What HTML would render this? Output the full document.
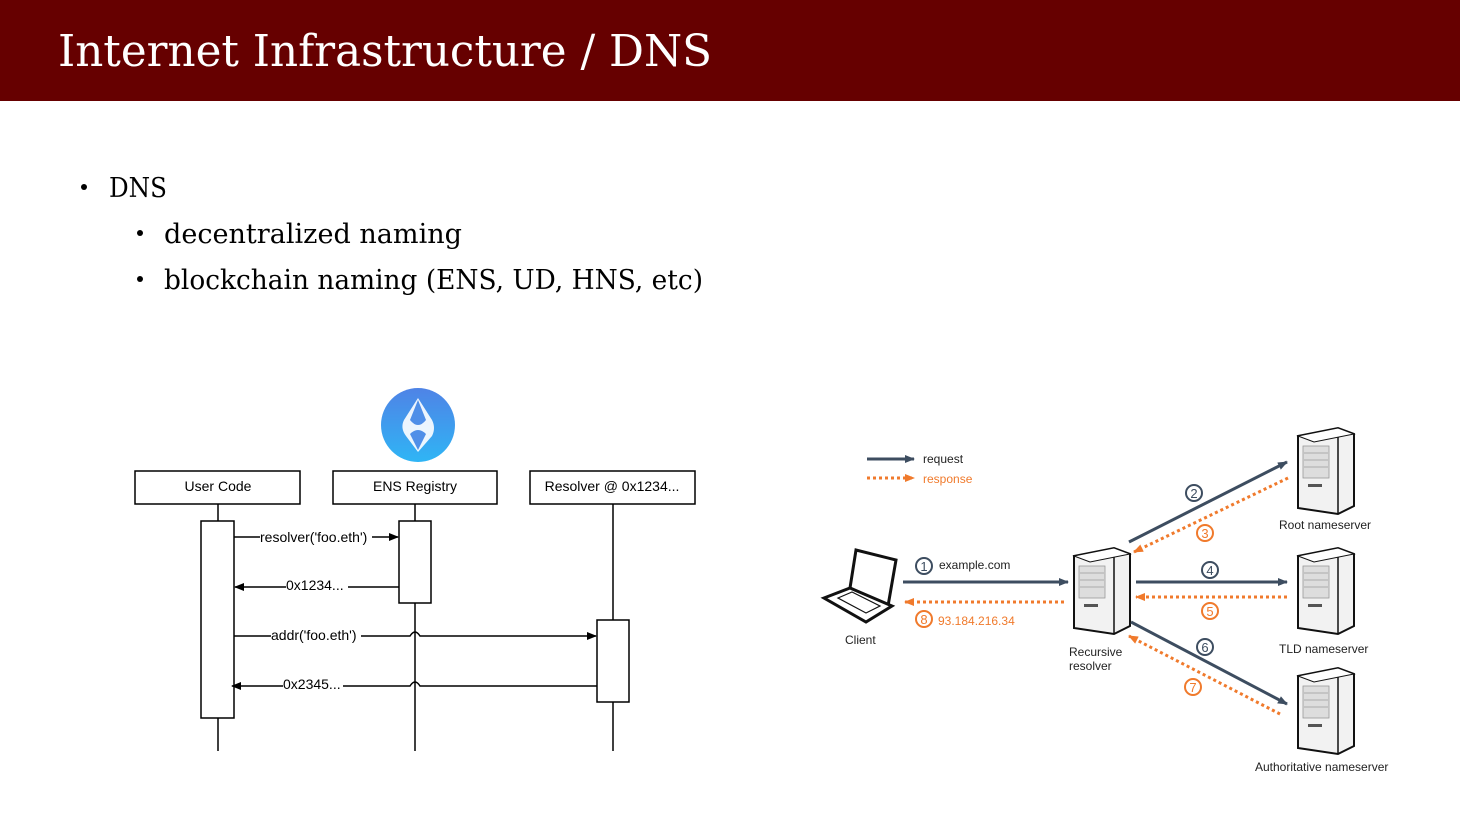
<!DOCTYPE html>
<html><head><meta charset="utf-8"><style>
html,body{margin:0;padding:0;width:1460px;height:819px;overflow:hidden;background:#fff}
svg{display:block}
</style></head><body>
<svg width="1460" height="819" xmlns="http://www.w3.org/2000/svg">
<defs>
<marker id="ab" markerWidth="10" markerHeight="8" refX="9" refY="4" orient="auto" markerUnits="userSpaceOnUse"><path d="M0,0 L10,4 L0,8 z" fill="#000"/></marker>
<marker id="ag" markerWidth="10" markerHeight="8" refX="9" refY="4" orient="auto" markerUnits="userSpaceOnUse"><path d="M0,0 L10,4 L0,8 z" fill="#3d4d60"/></marker>
<marker id="ao" markerWidth="10" markerHeight="8" refX="9" refY="4" orient="auto" markerUnits="userSpaceOnUse"><path d="M0,0 L10,4 L0,8 z" fill="#f07a2c"/></marker>
<linearGradient id="eg" x1="0" y1="0" x2="0" y2="1"><stop offset="0" stop-color="#4f83e6"/><stop offset="1" stop-color="#2fb5f5"/></linearGradient>
<g id="srv">
<path d="M0,8 L40,0 L56,6 L56,78 L40,86 L0,80 z" fill="#f2f2f2" stroke="#111" stroke-width="2"/>
<path d="M40,0 L40,86" stroke="#111" stroke-width="1.5"/>
<path d="M0,8 L40,0 L56,6 L16,14 z" fill="#fff" stroke="#111" stroke-width="1"/>
<rect x="5" y="18" width="26" height="32" fill="#ddd" stroke="#999" stroke-width="0.8"/>
<path d="M6,25 H30 M6,32 H30 M6,39 H30" stroke="#aaa"/>
<rect x="10" y="56" width="14" height="3" fill="#555"/>
</g>
</defs>
<rect x="0" y="0" width="1460" height="101" fill="#660000"/>
<text x="58" y="66" font-family="DejaVu Serif, serif" font-size="44" fill="#fff" textLength="654" lengthAdjust="spacingAndGlyphs">Internet Infrastructure / DNS</text>
<g font-family="DejaVu Serif, serif" font-size="27" fill="#000">
<circle cx="84" cy="187" r="3"/><text x="109" y="197" textLength="58" lengthAdjust="spacingAndGlyphs">DNS</text>
<circle cx="140" cy="233" r="3"/><text x="164" y="243" textLength="298" lengthAdjust="spacingAndGlyphs">decentralized naming</text>
<circle cx="140" cy="279" r="3"/><text x="164" y="289" textLength="539" lengthAdjust="spacingAndGlyphs">blockchain naming (ENS, UD, HNS, etc)</text>
</g>
<!-- ENS logo -->
<circle cx="418" cy="425" r="37" fill="url(#eg)"/>
<path d="M418,398 L404,420 Q400,428 406,436 L418,452 L432,436 Q436,428 432,420 z" fill="#fff" opacity="0.9"/>
<path d="M418,400 L410,420 Q418,430 426,420 z M418,450 L410,434 Q418,426 426,434 z" fill="#4f8fe8"/>
<!-- sequence diagram -->
<g font-family="Liberation Sans, sans-serif" font-size="14" fill="#000" stroke="#000" stroke-width="1.5">
<rect x="135" y="471" width="165" height="33" fill="#fff"/>
<rect x="333" y="471" width="164" height="33" fill="#fff"/>
<rect x="530" y="471" width="165" height="33" fill="#fff"/>
<path d="M218,504 V751 M415,504 V751 M613,504 V751"/>
<rect x="201" y="521" width="33" height="197" fill="#fff"/>
<rect x="399" y="521" width="32" height="82" fill="#fff"/>
<rect x="597" y="620" width="32" height="82" fill="#fff"/>
<path d="M234,537 H398" marker-end="url(#ab)"/>
<path d="M399,587 H235" marker-end="url(#ab)"/>
<path d="M234,636 H410 Q415,628 420,636 H596" fill="none" marker-end="url(#ab)"/>
<path d="M597,686 H420 Q415,678 410,686 H232" fill="none" marker-end="url(#ab)"/>
<g stroke="none">
<text x="218" y="491" text-anchor="middle">User Code</text>
<text x="415" y="491" text-anchor="middle">ENS Registry</text>
<text x="612" y="491" text-anchor="middle">Resolver @ 0x1234...</text>
<rect x="260" y="528" width="112" height="16" fill="#fff"/><text x="260" y="542">resolver('foo.eth')</text>
<rect x="286" y="578" width="62" height="16" fill="#fff"/><text x="286" y="590">0x1234...</text>
<rect x="271" y="627" width="90" height="16" fill="#fff"/><text x="271" y="640">addr('foo.eth')</text>
<rect x="283" y="677" width="60" height="16" fill="#fff"/><text x="283" y="689">0x2345...</text>
</g>
</g>
<!-- DNS diagram -->
<g font-family="Liberation Sans, sans-serif" font-size="12">
<path d="M867,459 H914" stroke="#3d4d60" stroke-width="3" marker-end="url(#ag)"/>
<text x="923" y="463" fill="#222">request</text>
<path d="M867,478 H914" stroke="#f07a2c" stroke-width="3" stroke-dasharray="3,3" marker-end="url(#ao)"/>
<text x="923" y="483" fill="#f07a2c">response</text>
<!-- laptop -->
<path d="M850,588 L856,550 L896,560 L888,606 z" fill="#fff" stroke="#111" stroke-width="3"/>
<path d="M824,598 L850,588 L892,606 L866,622 z" fill="#fff" stroke="#111" stroke-width="3"/>
<path d="M838,598 L852,592 L880,606 L866,613 z" fill="none" stroke="#111" stroke-width="1.2"/>
<text x="845" y="644" fill="#222">Client</text>
<use href="#srv" x="1074" y="548"/>
<text x="1069" y="656" fill="#222">Recursive</text><text x="1069" y="670" fill="#222">resolver</text>
<use href="#srv" x="1298" y="428"/><text x="1279" y="529" fill="#222">Root nameserver</text>
<use href="#srv" x="1298" y="548"/><text x="1279" y="653" fill="#222">TLD nameserver</text>
<use href="#srv" x="1298" y="668"/><text x="1255" y="771" fill="#222">Authoritative nameserver</text>
<g stroke-width="3" fill="none">
<path d="M903,582 H1068" stroke="#3d4d60" marker-end="url(#ag)"/>
<path d="M1064,602 H905" stroke="#f07a2c" stroke-dasharray="3,3" marker-end="url(#ao)"/>
<path d="M1129,542 L1287,462" stroke="#3d4d60" marker-end="url(#ag)"/>
<path d="M1288,478 L1134,552" stroke="#f07a2c" stroke-dasharray="3,3" marker-end="url(#ao)"/>
<path d="M1136,582 H1287" stroke="#3d4d60" marker-end="url(#ag)"/>
<path d="M1287,597 H1136" stroke="#f07a2c" stroke-dasharray="3,3" marker-end="url(#ao)"/>
<path d="M1131,622 L1287,704" stroke="#3d4d60" marker-end="url(#ag)"/>
<path d="M1280,714 L1129,636" stroke="#f07a2c" stroke-dasharray="3,3" marker-end="url(#ao)"/>
</g>
<g font-size="13" text-anchor="middle">
<circle cx="924" cy="566" r="8" fill="none" stroke="#3d4d60" stroke-width="2"/><text x="924" y="571" fill="#3d4d60">1</text>
<text x="939" y="569" fill="#222" text-anchor="start" font-size="12">example.com</text>
<circle cx="924" cy="619" r="8" fill="none" stroke="#f07a2c" stroke-width="2"/><text x="924" y="624" fill="#f07a2c">8</text>
<text x="938" y="625" fill="#f07a2c" text-anchor="start" font-size="12">93.184.216.34</text>
<circle cx="1194" cy="493" r="8" fill="none" stroke="#3d4d60" stroke-width="2"/><text x="1194" y="498" fill="#3d4d60">2</text>
<circle cx="1205" cy="533" r="8" fill="none" stroke="#f07a2c" stroke-width="2"/><text x="1205" y="538" fill="#f07a2c">3</text>
<circle cx="1210" cy="570" r="8" fill="none" stroke="#3d4d60" stroke-width="2"/><text x="1210" y="575" fill="#3d4d60">4</text>
<circle cx="1210" cy="611" r="8" fill="none" stroke="#f07a2c" stroke-width="2"/><text x="1210" y="616" fill="#f07a2c">5</text>
<circle cx="1205" cy="647" r="8" fill="none" stroke="#3d4d60" stroke-width="2"/><text x="1205" y="652" fill="#3d4d60">6</text>
<circle cx="1193" cy="687" r="8" fill="none" stroke="#f07a2c" stroke-width="2"/><text x="1193" y="692" fill="#f07a2c">7</text>
</g>
</g>
</svg>
</body></html>
